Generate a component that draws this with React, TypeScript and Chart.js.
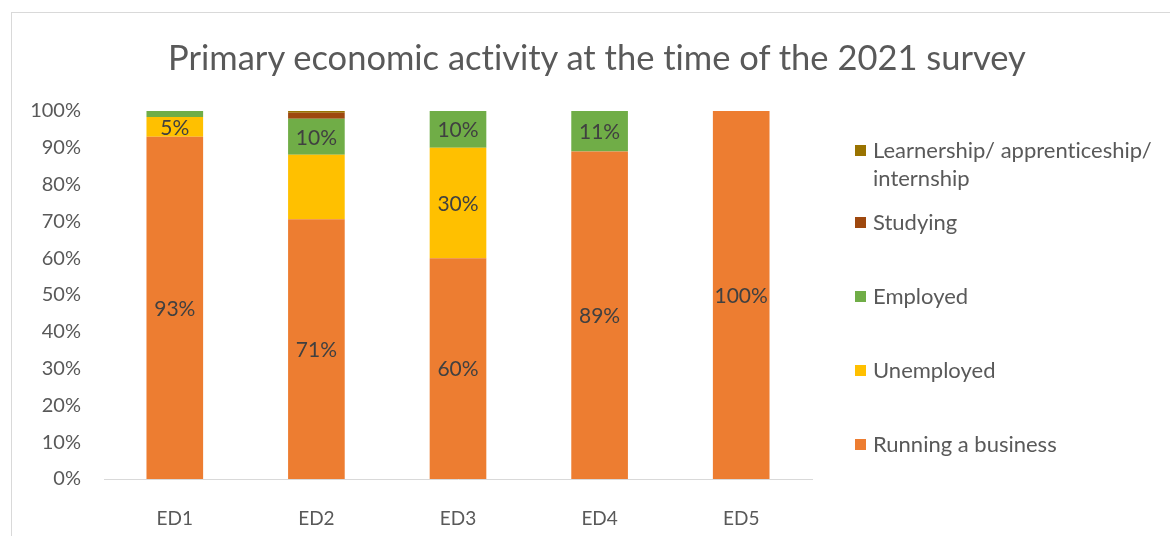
import React, { useEffect, useRef } from "react";
import { Chart, registerables } from "chart.js";

Chart.register(...registerables);

const categories = ["ED1", "ED2", "ED3", "ED4", "ED5"];
const seriesNames = [
  "Running a business",
  "Unemployed",
  "Employed",
  "Studying",
  "Learnership/ apprenticeship/ internship",
];
const runningBusiness = [93, 70.6, 60, 89, 100];
const unemployed = [5.4, 17.5, 30, 0, 0];
const employed = [1.6, 9.8, 10, 11, 0];
const studying = [0, 1.6, 0, 0, 0];
const learnership = [0, 0.5, 0, 0, 0];
const seriesColors = ["#ED7D31", "#FFC000", "#70AD47", "#9E480E", "#997300"];
// which data labels are shown in the reference
const labelShown = [
  [true, true, true, true, true],
  [true, false, true, false, false],
  [false, true, true, true, false],
  [false, false, false, false, false],
  [false, false, false, false, false],
];
const yTicks = [0, 10, 20, 30, 40, 50, 60, 70, 80, 90, 100];
const title = "Primary economic activity at the time of the 2021 survey";

const FONT = "Lato, 'Open Sans', sans-serif";
const TEXT = "#595959";

const dataLabelPlugin = {
  id: "segLabels",
  afterDatasetsDraw(chart: any) {
    const ctx = chart.ctx;
    ctx.save();
    ctx.font = `21px ${FONT}`;
    ctx.fillStyle = "#404040";
    ctx.textAlign = "center";
    ctx.textBaseline = "middle";
    chart.data.datasets.forEach((ds: any, di: number) => {
      const meta = chart.getDatasetMeta(di);
      meta.data.forEach((el: any, i: number) => {
        if (!labelShown[di][i]) return;
        const v = ds.data[i];
        const cy = (el.y + el.base) / 2;
        ctx.fillText(Math.round(v) + "%", el.x, cy + 1);
      });
    });
    ctx.restore();
  },
};

export default function App() {
  const ref = useRef<HTMLCanvasElement>(null);
  useEffect(() => {
    if (!ref.current) return;
    const all = [runningBusiness, unemployed, employed, studying, learnership];
    const chart = new Chart(ref.current, {
      type: "bar",
      data: {
        labels: categories,
        datasets: all.map((d, i) => ({
          label: seriesNames[i],
          data: d,
          backgroundColor: seriesColors[i],
          borderWidth: 0,
          barPercentage: 0.4,
          categoryPercentage: 1,
        })),
      },
      options: {
        animation: false,
        responsive: false,
        maintainAspectRatio: false,
        layout: { padding: { left: 0, right: 358, top: 111, bottom: 0 } },
        plugins: {
          legend: { display: false },
          title: { display: false },
          tooltip: { enabled: false },
        },
        scales: {
          x: {
            stacked: true,
            grid: { display: false, drawTicks: false },
            border: { display: true, color: "#D9D9D9", width: 1 },
            ticks: { color: TEXT, font: { family: FONT, size: 19 }, padding: 28 },
            afterFit(scale: any) {
              scale.height = 57;
            },
          },
          y: {
            stacked: true,
            min: 0,
            max: 100,
            grid: { display: false, drawTicks: false },
            border: { display: false },
            afterBuildTicks(scale: any) {
              scale.ticks = yTicks.map((v) => ({ value: v }));
            },
            ticks: {
              color: TEXT,
              font: { family: FONT, size: 20 },
              padding: 23,
              callback: (v: any) => v + "%",
            },
            afterFit(scale: any) {
              scale.width = 104;
            },
          },
        },
      },
      plugins: [dataLabelPlugin],
    });
    return () => chart.destroy();
  }, []);

  const legendRows = [
    { idx: 4, y: 150 },
    { idx: 3, y: 222 },
    { idx: 2, y: 296 },
    { idx: 1, y: 370 },
    { idx: 0, y: 444 },
  ];

  return (
    <div style={{ position: "absolute", left: 0, top: 0, width: 1170, height: 536, background: "#fff", overflow: "hidden", fontVariantLigatures: "none" }}>
      <div
        style={{
          position: "absolute",
          left: 11,
          top: 12,
          width: 1200,
          height: 600,
          border: "1px solid #D9D9D9",
          boxSizing: "border-box",
        }}
      />
      <canvas ref={ref} width={1170} height={536} style={{ position: "absolute", left: 0, top: 0 }} />
      <div
        style={{
          position: "absolute",
          left: 0,
          width: 1194,
          top: 35,
          textAlign: "center",
          fontFamily: FONT,
          fontSize: 34.5,
          lineHeight: "44px",
          color: TEXT,
          whiteSpace: "nowrap",
          fontVariantLigatures: "none",
        }}
      >
        {title}
      </div>
      {legendRows.map((r) => (
        <div key={r.idx} style={{ position: "absolute", left: 855, top: r.y - 14, display: "flex", alignItems: "flex-start" }}>
          <div style={{ width: 11, height: 11, background: seriesColors[r.idx], marginTop: 9, marginRight: 7 }} />
          <div
            style={{
              width: 292,
              fontFamily: FONT,
              fontSize: 22,
              lineHeight: "28px",
              color: TEXT,
              fontVariantLigatures: "none",
            }}
          >
            {seriesNames[r.idx]}
          </div>
        </div>
      ))}
    </div>
  );
}
